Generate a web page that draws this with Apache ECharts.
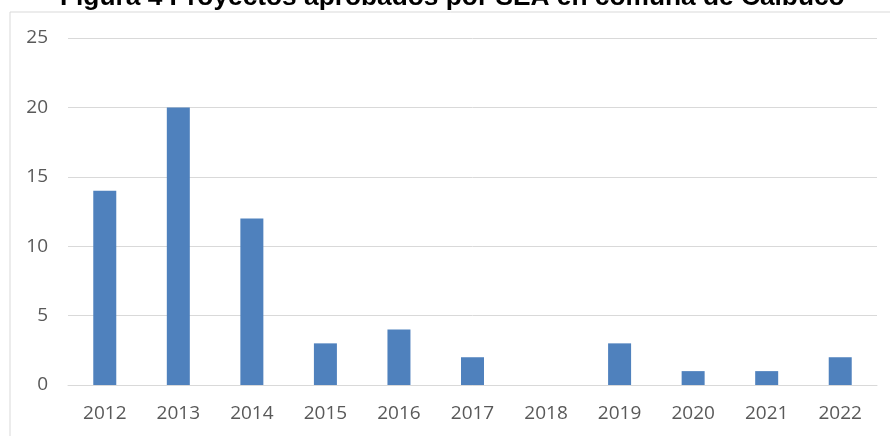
<!DOCTYPE html>
<html>
<head>
<meta charset="utf-8">
<script src="https://cdn.jsdelivr.net/npm/echarts@6/dist/echarts.min.js"></script>
<style>
  html, body { margin: 0; padding: 0; background: #fff; }
  #chart { width: 890px; height: 436px; }
</style>
</head>
<body>
<div id="chart"></div>
<script>
const years = ["2012", "2013", "2014", "2015", "2016", "2017", "2018", "2019", "2020", "2021", "2022"];
const proyectos = [14, 20, 12, 3, 4, 2, 0, 3, 1, 1, 2];
const yTicks = [0, 5, 10, 15, 20, 25];

const chart = echarts.init(document.getElementById("chart"));
chart.setOption({
  animation: false,
  title: {
    text: "Figura 4 Proyectos aprobados por SEA en comuna de Calbuco",
    left: 60,
    top: -15,
    padding: 0,
    textStyle: {
      fontFamily: "Liberation Sans",
      fontWeight: "bold",
      fontSize: 26.3,
      color: "#000"
    }
  },
  graphic: [{
    type: "rect",
    shape: { x: 10, y: 12, width: 900, height: 440 },
    style: { fill: "none", stroke: "#d9d9d9", lineWidth: 1 },
    z: -1
  }],
  grid: { left: 68, right: 13, top: 38, bottom: 51 },
  xAxis: {
    type: "category",
    data: years,
    axisLine: { lineStyle: { color: "#d9d9d9", width: 1 } },
    axisTick: { show: false },
    axisLabel: { color: "#595959", fontFamily: "Open Sans", fontSize: 19, margin: 19 }
  },
  yAxis: {
    type: "value",
    min: yTicks[0],
    max: yTicks[yTicks.length - 1],
    interval: 5,
    splitLine: { lineStyle: { color: "#d9d9d9", width: 1 } },
    axisLine: { show: false },
    axisTick: { show: false },
    axisLabel: { color: "#595959", fontFamily: "Open Sans", fontSize: 19, margin: 20 }
  },
  series: [{
    type: "bar",
    data: proyectos,
    barWidth: 23,
    itemStyle: { color: "#4f81bd" }
  }]
});
</script>
</body>
</html>
